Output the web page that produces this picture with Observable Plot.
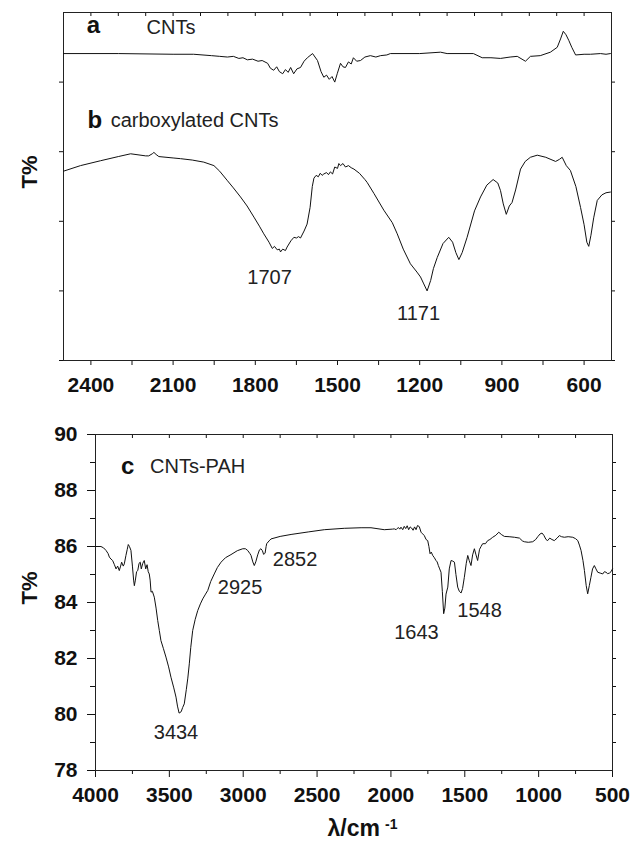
<!DOCTYPE html>
<html><head><meta charset="utf-8">
<script src="https://cdn.jsdelivr.net/npm/d3@7"></script>
<script src="https://cdn.jsdelivr.net/npm/@observablehq/plot@0.6"></script>
<style>
body{margin:0;background:#fff;}
#chart{width:632px;}
#chart svg{display:block;}
</style></head><body><div id="chart"></div>
<script>
// ---------- data: [wavenumber (cm-1), T% (arb.)] ----------
const cntsA = [
[2500,4.41],[2300,4.41],[2100,4.40],[2025,4.40],[1960,4.38],[1930,4.37],[1902,4.36],[1880,4.37],[1860,4.34],[1845,4.35],[1829,4.32],[1810,4.33],[1790,4.30],[1775,4.31],[1755,4.27],[1745,4.20],[1733,4.17],[1722,4.22],[1712,4.15],[1700,4.12],[1690,4.18],[1680,4.14],[1671,4.21],[1660,4.12],[1648,4.19],[1635,4.21],[1622,4.30],[1610,4.35],[1591,4.41],[1573,4.31],[1560,4.15],[1550,4.07],[1540,4.10],[1530,4.04],[1520,4.08],[1510,4.00],[1501,4.12],[1489,4.27],[1480,4.22],[1471,4.21],[1460,4.29],[1450,4.26],[1442,4.35],[1430,4.30],[1416,4.31],[1400,4.36],[1380,4.38],[1360,4.36],[1343,4.38],[1320,4.39],[1307,4.41],[1200,4.41],[1124,4.43],[1100,4.41],[1004,4.41],[972,4.35],[940,4.35],[905,4.34],[870,4.36],[844,4.37],[814,4.30],[796,4.37],[760,4.38],[723,4.43],[698,4.50],[686,4.62],[676,4.73],[666,4.68],[656,4.60],[645,4.50],[631,4.39],[600,4.40],[577,4.40],[540,4.41],[520,4.40],[504,4.41]
];
const carboxB = [
[2500,2.72],[2438,2.80],[2365,2.87],[2300,2.93],[2255,2.97],[2200,2.94],[2189,2.94],[2176,2.97],[2170,2.99],[2162,2.96],[2152,2.93],[2100,2.91],[2073,2.90],[2030,2.88],[1988,2.85],[1951,2.80],[1930,2.72],[1903,2.59],[1880,2.48],[1854,2.35],[1830,2.22],[1805,2.06],[1785,1.93],[1769,1.82],[1750,1.70],[1738,1.61],[1730,1.64],[1720,1.59],[1712,1.60],[1708,1.56],[1700,1.60],[1690,1.58],[1684,1.63],[1670,1.72],[1659,1.77],[1650,1.76],[1642,1.78],[1635,1.76],[1622,1.86],[1611,1.96],[1600,2.20],[1592,2.50],[1586,2.62],[1578,2.66],[1570,2.64],[1563,2.69],[1556,2.66],[1550,2.68],[1540,2.70],[1533,2.67],[1526,2.71],[1518,2.68],[1510,2.78],[1500,2.76],[1495,2.83],[1489,2.80],[1480,2.83],[1471,2.78],[1460,2.80],[1450,2.77],[1440,2.75],[1420,2.69],[1400,2.60],[1392,2.56],[1367,2.40],[1331,2.16],[1300,1.98],[1282,1.82],[1260,1.60],[1234,1.39],[1210,1.27],[1197,1.20],[1185,1.10],[1173,1.00],[1160,1.15],[1150,1.32],[1136,1.48],[1115,1.68],[1094,1.77],[1080,1.70],[1068,1.55],[1057,1.45],[1045,1.55],[1027,1.77],[1000,2.15],[978,2.35],[955,2.52],[932,2.60],[915,2.55],[905,2.44],[895,2.25],[884,2.10],[873,2.22],[863,2.27],[850,2.45],[832,2.75],[815,2.86],[796,2.92],[771,2.95],[740,2.92],[704,2.86],[690,2.89],[680,2.92],[665,2.80],[650,2.73],[630,2.50],[613,2.20],[600,1.95],[590,1.70],[583,1.64],[575,1.80],[565,2.05],[552,2.30],[535,2.38],[520,2.41],[504,2.42]
];
const cntsPAH = [
[4000,86.0],[3963,86.0],[3945,85.95],[3929,85.86],[3915,85.75],[3906,85.62],[3895,85.55],[3884,85.5],[3872,85.35],[3861,85.2],[3850,85.3],[3839,85.14],[3830,85.3],[3823,85.44],[3812,85.3],[3805,85.38],[3794,85.68],[3785,85.9],[3778,86.07],[3770,86.0],[3760,85.86],[3750,85.3],[3742,84.8],[3737,84.6],[3730,84.8],[3722,85.1],[3714,85.14],[3705,85.4],[3697,85.44],[3690,85.2],[3680,85.4],[3670,85.5],[3660,85.2],[3651,85.35],[3643,85.1],[3636,85.02],[3630,84.8],[3624,84.37],[3615,84.4],[3602,84.19],[3590,83.8],[3579,83.36],[3568,83.0],[3557,82.64],[3540,82.35],[3523,82.05],[3505,81.7],[3489,81.33],[3470,80.95],[3455,80.62],[3445,80.3],[3434,80.05],[3420,80.1],[3410,80.25],[3399,80.38],[3385,80.9],[3375,81.3],[3365,81.81],[3355,82.4],[3342,83.0],[3325,83.4],[3308,83.71],[3290,83.95],[3274,84.13],[3255,84.3],[3240,84.43],[3220,84.75],[3196,85.02],[3175,85.25],[3150,85.44],[3120,85.6],[3083,85.71],[3040,85.85],[3003,85.92],[2985,85.92],[2970,85.86],[2955,85.75],[2947,85.68],[2935,85.45],[2925,85.32],[2915,85.45],[2902,85.7],[2890,85.88],[2880,85.92],[2870,85.85],[2862,85.72],[2857,85.74],[2852,85.76],[2845,86.0],[2841,86.1],[2825,86.2],[2812,86.27],[2750,86.36],[2676,86.43],[2560,86.52],[2451,86.6],[2316,86.65],[2202,86.67],[2135,86.67],[2045,86.6],[1990,86.62],[1977,86.63],[1965,86.6],[1950,86.68],[1940,86.62],[1932,86.69],[1920,86.6],[1910,86.72],[1900,86.64],[1890,86.74],[1880,86.6],[1870,86.7],[1860,86.66],[1850,86.58],[1840,86.7],[1830,86.6],[1820,86.75],[1808,86.71],[1796,86.51],[1785,86.45],[1774,86.39],[1762,86.25],[1751,86.21],[1743,86.0],[1735,85.74],[1727,85.8],[1717,85.68],[1706,85.6],[1695,85.5],[1687,85.45],[1679,85.32],[1670,85.2],[1661,85.08],[1652,84.4],[1643,83.6],[1635,83.8],[1627,84.3],[1615,84.55],[1605,85.2],[1593,85.5],[1582,85.48],[1570,85.44],[1560,85.0],[1548,84.55],[1537,84.4],[1525,84.34],[1515,84.5],[1503,84.9],[1490,85.4],[1480,85.68],[1470,85.5],[1458,85.32],[1447,85.7],[1435,85.92],[1424,85.7],[1413,85.5],[1400,85.9],[1390,86.0],[1379,86.1],[1360,86.1],[1345,86.21],[1330,86.25],[1311,86.33],[1290,86.4],[1270,86.51],[1250,86.42],[1232,86.36],[1200,86.35],[1164,86.33],[1130,86.3],[1110,86.2],[1097,86.17],[1070,86.15],[1040,86.17],[1020,86.25],[1006,86.35],[990,86.45],[977,86.48],[965,86.4],[950,86.25],[939,86.21],[925,86.3],[910,86.25],[894,86.21],[875,86.3],[860,86.39],[845,86.35],[826,86.33],[800,86.35],[769,86.33],[750,86.28],[735,86.21],[724,86.05],[713,85.86],[700,85.5],[690,85.14],[678,84.6],[668,84.31],[657,84.6],[646,84.9],[635,85.2],[623,85.32],[612,85.2],[600,85.08],[583,85.05],[566,85.02],[555,85.1],[544,85.08],[533,85.03],[521,85.05],[510,85.1],[500,85.2]
];

// tick values / labels
const abTickLabels = [2400, 2100, 1800, 1500, 1200, 900, 600];
const abMinorTicks = [2250, 1950, 1650, 1350, 1050, 750];
const abTopTicks = [2500,2400,2300,2200,2100,2000,1900,1800,1700,1600,1500,1400,1300,1200,1100,1000,900,800,700,600,500];
const abYTicks = [0, 1, 2, 3, 4];
const cTickLabels = [4000, 3500, 3000, 2500, 2000, 1500, 1000, 500];
const cMinorTicks = [3750, 3250, 2750, 2250, 1750, 1250, 750];
const cTopTicks = [3750,3500,3250,3000,2750,2500,2250,2000,1750,1500,1250,1000,750];
const cYTickLabels = [78, 80, 82, 84, 86, 88, 90];
const cYMinorTicks = [79, 81, 83, 85, 87, 89];
const cYRightTicks = [79, 80, 81, 82, 83, 84, 85, 86, 87, 88, 89];

// annotations: peak labels and series labels
const abPeaks = [{text: "1707", wn: 1748, t: 1.19}, {text: "1171", wn: 1204, t: 0.68}];
const abSeriesBold = [{text: "a", wn: 2415, t: 4.81}, {text: "b", wn: 2412, t: 3.458}];
const abSeriesName = [{text: "CNTs", wn: 2197, t: 4.786}, {text: "carboxylated CNTs", wn: 2328, t: 3.44}];
const cPeaks = [
  {text: "3434", wn: 3455, t: 79.36},
  {text: "2925", wn: 3021, t: 84.55},
  {text: "2852", wn: 2649, t: 85.52},
  {text: "1643", wn: 1827, t: 82.91},
  {text: "1548", wn: 1400, t: 83.70}
];
const cSeriesBold = [{text: "c", wn: 3827, t: 88.88}];
const cSeriesName = [{text: "CNTs-PAH", wn: 3631, t: 88.84}];
const yTitle = "T%";
const xTitle = "λ/cm";
const xTitleSup = "-1";

const FONT = "'Liberation Sans', Arial, Helvetica, sans-serif";
const INK = "#111";
const blank = () => "";
const plain = d => String(d);

const panelAB = Plot.plot({
  width: 632, height: 400,
  marginLeft: 63, marginRight: 21, marginTop: 12, marginBottom: 40,
  style: {fontFamily: FONT, fontSize: "20px", color: INK, background: "#fff", overflow: "visible"},
  x: {domain: [2500, 500]},
  y: {domain: [0, 5]},
  marks: [
    Plot.axisX({anchor: "bottom", ticks: abTickLabels, tickSize: 5, tickPadding: 12, tickFormat: plain, fontSize: 21, fontWeight: "bold", label: null}),
    Plot.axisX({anchor: "bottom", ticks: abMinorTicks, tickSize: 5, tickFormat: blank, label: null}),
    Plot.axisX({anchor: "top", ticks: abTopTicks, tickSize: 3, dy: 3, tickFormat: blank, label: null}),
    Plot.axisY({anchor: "left", ticks: abYTicks, tickSize: 4, tickFormat: blank, label: null}),
    Plot.axisY({anchor: "right", ticks: abYTicks, tickSize: 3, tickFormat: blank, label: null}),
    Plot.frame({stroke: "#222"}),
    Plot.line(cntsA, {x: d => d[0], y: d => d[1], stroke: INK, strokeWidth: 1}),
    Plot.line(carboxB, {x: d => d[0], y: d => d[1], stroke: INK, strokeWidth: 1}),
    Plot.text(abPeaks, {x: "wn", y: "t", text: "text", fontSize: 20, fill: "#222"}),
    Plot.text(abSeriesBold, {x: "wn", y: "t", text: "text", textAnchor: "start", fontSize: 24, fontWeight: "bold", fill: INK}),
    Plot.text(abSeriesName, {x: "wn", y: "t", text: "text", textAnchor: "start", fontSize: 20, fill: "#222"}),
    Plot.text([yTitle], {text: d => d, frameAnchor: "left", rotate: -90, dx: -34, dy: 2, fontSize: 22, fontWeight: "bold", fill: INK})
  ]
});

const panelC = Plot.plot({
  width: 632, height: 444,
  marginLeft: 95, marginRight: 20, marginTop: 34, marginBottom: 74,
  style: {fontFamily: FONT, fontSize: "20px", color: INK, background: "#fff", overflow: "visible"},
  x: {domain: [4000, 500]},
  y: {domain: [78, 90]},
  marks: [
    Plot.axisX({anchor: "bottom", ticks: cTickLabels, tickSize: 7, tickPadding: 10, tickFormat: plain, fontSize: 21, fontWeight: "bold", label: null}),
    Plot.axisX({anchor: "bottom", ticks: cMinorTicks, tickSize: 4, tickFormat: blank, label: null}),
    Plot.axisX({anchor: "top", ticks: cTopTicks, tickSize: 3, dy: 3, tickFormat: blank, label: null}),
    Plot.axisY({anchor: "left", ticks: cYTickLabels, tickSize: 8, tickPadding: 10, tickFormat: plain, fontSize: 21, fontWeight: "bold", label: null}),
    Plot.axisY({anchor: "left", ticks: cYMinorTicks, tickSize: 5, tickFormat: blank, label: null}),
    Plot.axisY({anchor: "right", ticks: cYRightTicks, tickSize: 3, tickFormat: blank, label: null}),
    Plot.frame({stroke: "#222"}),
    Plot.line(cntsPAH, {x: d => d[0], y: d => d[1], stroke: INK, strokeWidth: 1}),
    Plot.text(cPeaks, {x: "wn", y: "t", text: "text", fontSize: 20, fill: "#222"}),
    Plot.text(cSeriesBold, {x: "wn", y: "t", text: "text", textAnchor: "start", fontSize: 24, fontWeight: "bold", fill: INK}),
    Plot.text(cSeriesName, {x: "wn", y: "t", text: "text", textAnchor: "start", fontSize: 20, fill: "#222"}),
    Plot.text([yTitle], {text: d => d, frameAnchor: "left", rotate: -90, dx: -66, dy: 2, fontSize: 22, fontWeight: "bold", fill: INK}),
    Plot.text([xTitle], {text: d => d, frameAnchor: "bottom", dx: 26, dy: 65, textAnchor: "end", fontSize: 23, fontWeight: "bold", fill: INK}),
    Plot.text([xTitleSup], {text: d => d, frameAnchor: "bottom", dx: 31, dy: 58, textAnchor: "start", fontSize: 14, fontWeight: "bold", fill: INK})
  ]
});

const chart = document.getElementById("chart");
chart.appendChild(panelAB);
chart.appendChild(panelC);
</script></body></html>
